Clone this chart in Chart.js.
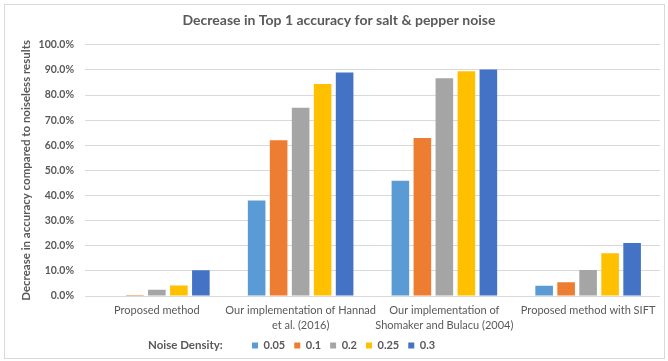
<!DOCTYPE html>
<html>
<head>
<meta charset="utf-8">
<script src="https://cdn.jsdelivr.net/npm/chart.js@4/dist/chart.umd.min.js"></script>
<style>
  html, body { margin: 0; padding: 0; background: #ffffff; }
  canvas { display: block; }
</style>
</head>
<body>
<canvas id="chart" width="668" height="361"></canvas>
<script>
// Methods compared on the x axis
const categories = [
  'Proposed method',
  ['Our implementation of Hannad', 'et al. (2016)'],
  ['Our implementation of', 'Shomaker and Bulacu (2004)'],
  'Proposed method with SIFT'
];

// Noise densities (one bar series each)
const noiseDensities = ['0.05', '0.1', '0.2', '0.25', '0.3'];

// Decrease in top-1 accuracy (%) per method, one array per noise density
const density005 = [0.0, 38.0, 45.9, 4.1];
const density010 = [0.4, 62.0, 62.9, 5.5];
const density020 = [2.5, 74.9, 86.7, 10.4];
const density025 = [4.2, 84.4, 89.5, 17.0];
const density030 = [10.3, 89.0, 90.2, 21.1];

// Y axis tick values
const yTicks = [0, 10, 20, 30, 40, 50, 60, 70, 80, 90, 100];

const seriesValues = [density005, density010, density020, density025, density030];
const seriesColors = ['#5b9bd5', '#ed7d31', '#a5a5a5', '#ffc000', '#4472c4'];

const TEXT = '#595959';
const GRID = '#d9d9d9';
const FONT = 'Lato, "Open Sans", sans-serif';
Chart.defaults.font.family = FONT;
Chart.defaults.color = TEXT;

// Outer frame, title/legend placement and the "Noise Density:" caption
const frameAndCaption = {
  id: 'frameAndCaption',
  afterLayout(chart) {
    const lg = chart.legend;
    const dx = 252 - (lg.left + lg.options.labels.padding);
    lg.left += dx;
    lg.right += dx;
    (lg.legendHitBoxes || []).forEach(b => { b.left += dx; });
    const tb = chart.titleBlock;
    tb.left += 9;
    tb.right += 9;
  },
  beforeDraw(chart) {
    const ctx = chart.ctx;
    ctx.save();
    ctx.fillStyle = '#ffffff';
    ctx.fillRect(0, 0, chart.width, chart.height);
    ctx.strokeStyle = GRID;
    ctx.lineWidth = 1;
    ctx.strokeRect(4.5, 4.5, chart.width - 8, chart.height - 7);
    ctx.restore();
  },
  afterDraw(chart) {
    const lg = chart.legend;
    const box = lg.legendHitBoxes[0];
    const ctx = chart.ctx;
    ctx.save();
    ctx.font = 'bold 11.5px ' + FONT;
    ctx.fillStyle = TEXT;
    ctx.textBaseline = 'middle';
    ctx.textAlign = 'left';
    ctx.fillText('Noise Density:', 148, box.top + box.height / 2);
    ctx.restore();
  }
};

new Chart(document.getElementById('chart'), {
  type: 'bar',
  data: {
    labels: categories,
    datasets: noiseDensities.map((d, i) => ({
      label: d,
      data: seriesValues[i],
      backgroundColor: seriesColors[i],
      borderWidth: 0,
      categoryPercentage: 0.765,
      barPercentage: 0.8
    }))
  },
  options: {
    responsive: false,
    animation: false,
    devicePixelRatio: 1,
    layout: { padding: { left: 0, right: 8, top: 0, bottom: 0 } },
    plugins: {
      title: {
        display: true,
        text: 'Decrease in Top 1 accuracy for salt & pepper noise',
        color: TEXT,
        font: { size: 14, weight: 'bold' },
        padding: { top: 12, bottom: 16 }
      },
      legend: {
        position: 'bottom',
        align: 'start',
        labels: {
          boxWidth: 6,
          boxHeight: 6,
          padding: 9,
          color: TEXT,
          font: { size: 11, weight: 'bold' }
        }
      },
      tooltip: { enabled: false }
    },
    scales: {
      x: {
        afterFit(scale) { scale.height = 35; },
        grid: { display: false, drawTicks: false },
        border: { display: false },
        ticks: {
          color: TEXT,
          maxRotation: 0,
          autoSkip: false,
          padding: 7,
          font: { size: 11, lineHeight: 1.36 }
        }
      },
      y: {
        min: 0,
        max: 100,
        afterFit(scale) { scale.width = 85; },
        afterBuildTicks(scale) { scale.ticks = yTicks.map(v => ({ value: v })); },
        grid: { color: GRID, lineWidth: 1, drawTicks: false },
        border: { display: false },
        ticks: {
          color: TEXT,
          padding: 11,
          font: { size: 10.5, weight: 'bold' },
          callback: v => v.toFixed(1) + '%'
        },
        title: {
          display: true,
          text: 'Decrease in accuracy compared to noiseless results',
          color: TEXT,
          font: { size: 11.5, weight: 'bold' },
          padding: { top: 19, bottom: 0 }
        }
      }
    }
  },
  plugins: [frameAndCaption]
});
</script>
</body>
</html>
